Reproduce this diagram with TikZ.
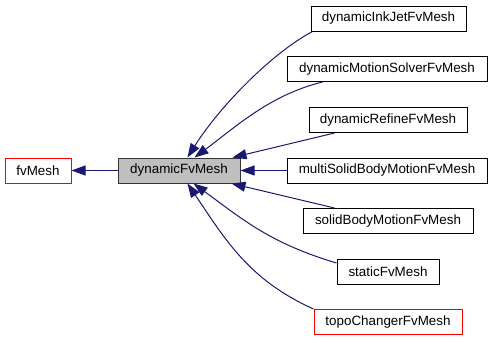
\documentclass[tikz,border=0pt]{standalone}
\usepackage{fontspec}
\setmainfont{Liberation Sans}
\usetikzlibrary{arrows.meta,calc}
\definecolor{edgeblue}{HTML}{191970}
\definecolor{basefill}{HTML}{BFBFBF}
\begin{document}
\begin{tikzpicture}[x=1pt,y=1pt,
  cls/.style={draw=black, line width=1pt, fill=white, minimum height=25pt,
    inner sep=0pt, font=\fontsize{13.4}{16}\selectfont},
  extcls/.style={cls, draw=red},
  curcls/.style={cls, fill=basefill, draw=black!80},
  inh/.style={edgeblue, line width=1pt, -{Triangle[length=14pt,width=10pt]}}]
\useasboundingbox (0,0) rectangle (493,-341);

% class boxes
\node[extcls, minimum width=66pt]  (fv)     at (38,-170.5)   {fvMesh};
\node[curcls, minimum width=122pt] (dyn)    at (179,-170.5)  {dynamicFvMesh};
\node[cls, minimum width=155pt]    (ink)    at (388.5,-18.5) {dynamicInkJetFvMesh};
\node[cls, minimum width=200pt]    (mot)    at (387,-69)     {dynamicMotionSolverFvMesh};
\node[cls, minimum width=158pt]    (ref)    at (388,-120)    {dynamicRefineFvMesh};
\node[cls, minimum width=200pt]    (multi)  at (387,-170.5)  {multiSolidBodyMotionFvMesh};
\node[cls, minimum width=170pt]    (solid)  at (388,-221)    {solidBodyMotionFvMesh};
\node[cls, minimum width=102pt]    (static) at (388,-271.5)  {staticFvMesh};
\node[extcls, minimum width=148pt] (topo)   at (388,-322)    {topoChangerFvMesh};

% inheritance arrows, child to base
\draw[inh] (dyn.west) -- (fv.east);
\draw[inh] ($(ink.south west)+(2,0)$) .. controls +(-40,-21) and +(32,51) .. ($(dyn.north west)+(70,0)$);
\draw[inh] ($(mot.south west)+(36,0)$) .. controls +(-53,-13) and +(40.5,30) .. ($(dyn.north west)+(77,0)$);
\draw[inh] ($(ref.south west)+(26,0)$) -- ($(dyn.north west)+(115,0)$);
\draw[inh] (multi.west) -- (dyn.east);
\draw[inh] ($(solid.north west)+(32,0)$) -- ($(dyn.south west)+(114,0)$);
\draw[inh] ($(static.west)+(0,8.5)$) .. controls +(-67,20) and +(48.6,-35.4) .. ($(dyn.south west)+(76,0)$);
\draw[inh] (topo.north west) .. controls +(-64,29) and +(39,-58) .. ($(dyn.south west)+(70,0)$);
\end{tikzpicture}
\end{document}
